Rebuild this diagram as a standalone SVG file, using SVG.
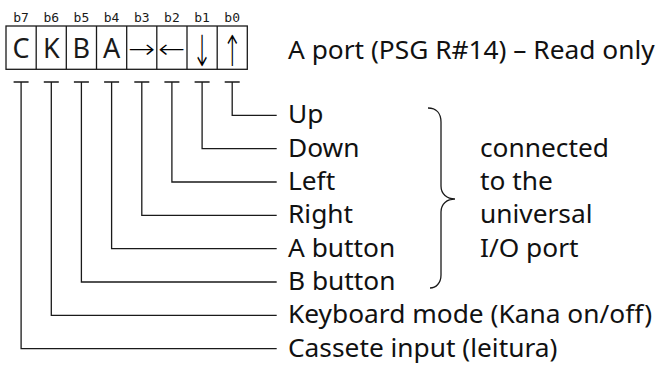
<svg xmlns="http://www.w3.org/2000/svg" width="661" height="365" viewBox="0 0 661 365">
<style>
.bg{fill:#fff}
.ln{fill:none;stroke:#1a1a1a;stroke-width:1.3}
.bit{font-family:"DejaVu Sans Mono",monospace;font-size:13px;fill:#1a1a1a;text-anchor:middle}
.cell{font-family:"Noto Sans",sans-serif;font-size:27px;fill:#1a1a1a;text-anchor:middle}
.arr{font-family:"DejaVu Sans",sans-serif;font-weight:200;font-size:26px;fill:#000;text-anchor:middle}
.lbl{font-family:"Noto Sans",sans-serif;font-size:26.3px;fill:#111}
</style>
<rect class="bg" x="0" y="0" width="661" height="365"/>
<g id="register">
<rect class="ln" x="6" y="26" width="241.3" height="43.3"/>
<path class="ln" d="M36.2 26V69.3M66.3 26V69.3M96.5 26V69.3M126.7 26V69.3M156.8 26V69.3M187 26V69.3M217.2 26V69.3"/>
<text class="bit" x="21.1" y="21.5">b7</text>
<text class="bit" x="51.3" y="21.5">b6</text>
<text class="bit" x="81.4" y="21.5">b5</text>
<text class="bit" x="111.6" y="21.5">b4</text>
<text class="bit" x="141.8" y="21.5">b3</text>
<text class="bit" x="171.9" y="21.5">b2</text>
<text class="bit" x="202.1" y="21.5">b1</text>
<text class="bit" x="232.2" y="21.5">b0</text>
<text class="cell" x="21.1" y="58">C</text>
<text class="cell" x="51.3" y="58">K</text>
<text class="cell" x="81.4" y="58">B</text>
<text class="cell" x="111.6" y="58">A</text>
<text class="arr" transform="translate(141.8 58) scale(1.25 1)">→</text>
<text class="arr" transform="translate(171.9 58) scale(1.25 1)">←</text>
<text class="arr" transform="translate(202.1 66) scale(0.9 1.65)">↓</text>
<text class="arr" transform="translate(232.2 66) scale(0.9 1.65)">↑</text>
</g>
<g id="title"><text class="lbl" x="288" y="59.3">A port (PSG R#14) – Read only</text></g>
<g id="connectors">
<path class="ln" d="M224.7 82H239.7M232.2 82V115.3H276.7"/>
<path class="ln" d="M194.6 82H209.6M202.1 82V148.7H276.7"/>
<path class="ln" d="M164.4 82H179.4M171.9 82V182H276.7"/>
<path class="ln" d="M134.3 82H149.3M141.8 82V215.3H276.7"/>
<path class="ln" d="M104.1 82H119.1M111.6 82V248.7H276.7"/>
<path class="ln" d="M73.9 82H88.9M81.4 82V282H276.7"/>
<path class="ln" d="M43.8 82H58.8M51.3 82V315.3H276.7"/>
<path class="ln" d="M13.6 82H28.6M21.1 82V348.7H276.7"/>
<path class="ln" d="M428 108C436 108 441 113 441 122V186C441 194 447 199 455 199C447 199 441 204 441 212V275C441 283 436 288 430 288"/>
</g>
<g id="label-up"><text class="lbl" x="288" y="123.3">Up</text></g>
<g id="label-down"><text class="lbl" x="288" y="156.7">Down</text></g>
<g id="label-left"><text class="lbl" x="288" y="190">Left</text></g>
<g id="label-right"><text class="lbl" x="288" y="223.3">Right</text></g>
<g id="label-a"><text class="lbl" x="288" y="256.7">A button</text></g>
<g id="label-b"><text class="lbl" x="288" y="290">B button</text></g>
<g id="label-kana"><text class="lbl" x="288" y="323.3">Keyboard mode (Kana on/off)</text></g>
<g id="label-cassete"><text class="lbl" x="288" y="356.7">Cassete input (leitura)</text></g>
<g id="note">
<text class="lbl" x="480" y="156.7">connected</text>
<text class="lbl" x="480" y="190">to the</text>
<text class="lbl" x="480" y="223.3">universal</text>
<text class="lbl" x="480" y="256.7">I/O port</text>
</g>
</svg>
